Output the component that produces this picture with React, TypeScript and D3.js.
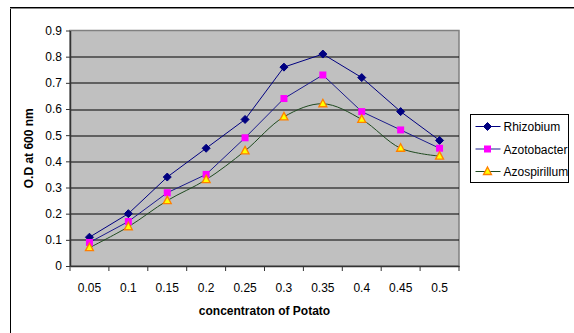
import { useEffect, useRef } from "react"
import * as d3 from "d3"

const categories = ["0.05", "0.1", "0.15", "0.2", "0.25", "0.3", "0.35", "0.4", "0.45", "0.5"]
const rhizobium = [0.11, 0.2, 0.34, 0.45, 0.56, 0.76, 0.81, 0.72, 0.59, 0.48]
const azotobacter = [0.09, 0.17, 0.28, 0.35, 0.49, 0.64, 0.73, 0.59, 0.52, 0.45]
const azospirillum = [0.07, 0.15, 0.25, 0.33, 0.44, 0.57, 0.62, 0.56, 0.45, 0.42]
const yTicks = [0, 0.1, 0.2, 0.3, 0.4, 0.5, 0.6, 0.7, 0.8, 0.9]

const series = [
    { name: "Rhizobium", values: rhizobium, line: "#000080", marker: "diamond", smooth: false },
    { name: "Azotobacter", values: azotobacter, line: "#1c1c8c", marker: "square", smooth: false },
    { name: "Azospirillum", values: azospirillum, line: "#1f4a1f", marker: "triangle", smooth: true },
]

export default function App() {
    const ref = useRef<SVGSVGElement>(null)

    useEffect(() => {
        const W = 574, H = 333
        const margin = { top: 30.5, left: 70, right: 115, bottom: 67 }
        const width = W - margin.left - margin.right
        const height = H - margin.top - margin.bottom
        const font = "'Liberation Sans', Arial, sans-serif"

        const root = d3.select(ref.current)
        root.selectAll("*").remove()

        // chart frame (top and left edges only visible)
        root.append("rect")
            .attr("x", 10.5).attr("y", 7.5)
            .attr("width", 600).attr("height", 400)
            .attr("fill", "white").attr("stroke", "#000").attr("stroke-width", 1)
        root.append("line")
            .attr("x1", 10).attr("x2", 574).attr("y1", 8.5).attr("y2", 8.5)
            .attr("stroke", "#888")

        const svg = root.append("g").attr("transform", `translate(${margin.left}, ${margin.top})`)

        const xScale = d3.scaleBand().domain(categories).range([0, width])
        const yScale = d3.scaleLinear().domain([0, 0.9]).range([height, 0])

        // plot background
        svg.append("rect")
            .attr("x", 0).attr("y", 0).attr("width", width).attr("height", height)
            .attr("fill", "#c0c0c0").attr("stroke", "#808080").attr("stroke-width", 1.5)

        // gridlines
        svg.selectAll(".grid")
            .data(yTicks.filter((d) => d > 0 && d < 0.9))
            .join("line")
            .attr("class", "grid")
            .attr("x1", 0).attr("x2", width)
            .attr("y1", (d) => Math.round(yScale(d)) + 0.5)
            .attr("y2", (d) => Math.round(yScale(d)) + 0.5)
            .attr("stroke", "#000").attr("stroke-width", 1.2)

        // y axis
        const yAxis = d3.axisLeft(yScale).tickValues(yTicks).tickSize(4).tickSizeOuter(0)
            .tickFormat((d) => String(d))
        const yg = svg.append("g").call(yAxis)
        yg.select(".domain").attr("stroke", "#333").attr("stroke-width", 1.5)
        yg.selectAll("line").attr("stroke", "#333")
        yg.selectAll("text")
            .attr("font-family", font).attr("font-size", 12).attr("fill", "#000").attr("x", -8)

        // x axis
        const xAxis = d3.axisBottom(xScale).tickSize(0).tickSizeOuter(0)
        const xg = svg.append("g").attr("transform", `translate(0, ${height})`).call(xAxis)
        xg.select(".domain").attr("stroke", "#333").attr("stroke-width", 1.5)
        xg.selectAll("text")
            .attr("font-family", font).attr("font-size", 12).attr("fill", "#000").attr("dy", "1.9em")
        xg.selectAll(".xtick")
            .data(d3.range(categories.length + 1))
            .join("line")
            .attr("class", "xtick")
            .attr("x1", (i) => i * xScale.step()).attr("x2", (i) => i * xScale.step())
            .attr("y1", 0).attr("y2", 5)
            .attr("stroke", "#333")

        // axis titles
        svg.append("text")
            .attr("transform", `translate(${-37}, ${height / 2}) rotate(-90)`)
            .attr("text-anchor", "middle")
            .attr("font-family", font).attr("font-size", 12).attr("font-weight", "bold")
            .text("O.D at 600 nm")
        svg.append("text")
            .attr("x", width / 2).attr("y", height + 49)
            .attr("text-anchor", "middle")
            .attr("font-family", font).attr("font-size", 12).attr("font-weight", "bold")
            .text("concentraton of Potato")

        const cx = (i: number) => (xScale(categories[i]) ?? 0) + xScale.bandwidth() / 2

        const drawMarker = (g: any, type: string, x: number, y: number) => {
            if (type === "diamond") {
                g.append("path")
                    .attr("d", `M${x},${y - 4}L${x + 4},${y}L${x},${y + 4}L${x - 4},${y}Z`)
                    .attr("fill", "#000080").attr("stroke", "#000080")
            } else if (type === "square") {
                g.append("rect")
                    .attr("x", x - 3.5).attr("y", y - 3.5).attr("width", 7).attr("height", 7)
                    .attr("fill", "#ff00ff")
            } else {
                g.append("path")
                    .attr("d", `M${x},${y - 4.5}L${x + 4},${y + 3}L${x - 4},${y + 3}Z`)
                    .attr("fill", "#ffff00").attr("stroke", "#ff8000").attr("stroke-width", 1.3)
            }
        }

        const lines = svg.append("g")
        series.forEach((s) => {
            const linePath = d3.line<number>()
                .x((_, i) => cx(i))
                .y((d) => yScale(d))
                .curve(s.smooth ? d3.curveCatmullRom.alpha(0.5) : d3.curveLinear)
            lines.append("path")
                .attr("d", linePath(s.values))
                .attr("fill", "none").attr("stroke", s.line).attr("stroke-width", 1)
        })
        series.forEach((s) => {
            const mg = lines.append("g")
            s.values.forEach((v, i) => drawMarker(mg, s.marker, cx(i), yScale(v)))
        })

        // legend
        const legend = root.append("g").attr("transform", "translate(470.5, 114.5)")
        legend.append("rect")
            .attr("width", 98).attr("height", 68)
            .attr("fill", "white").attr("stroke", "#000").attr("stroke-width", 1)
        series.forEach((s, i) => {
            const y = 12 + i * 22.5
            const row = legend.append("g")
            row.append("line")
                .attr("x1", 5).attr("x2", 30).attr("y1", y).attr("y2", y)
                .attr("stroke", s.line)
            drawMarker(row, s.marker, 17, y)
            row.append("text")
                .attr("x", 33).attr("y", y + 4.5)
                .attr("font-family", font).attr("font-size", 12)
                .text(s.name)
        })
    }, [])

    return (
        <svg ref={ref} width={574} height={333}
            style={{ position: "absolute", left: 0, top: 0, background: "white" }} />
    )
}
